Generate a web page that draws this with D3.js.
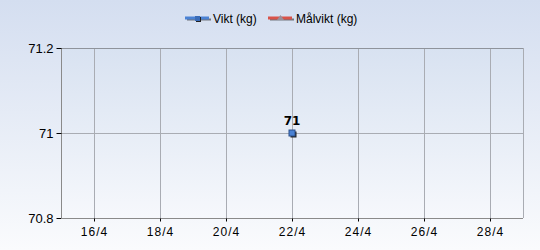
<!DOCTYPE html>
<html>
<head>
<meta charset="utf-8">
<script src="https://cdn.jsdelivr.net/npm/d3@7"></script>
<style>
  body { margin: 0; }
  svg { display: block; font-family: "DejaVu Sans", sans-serif; }
</style>
</head>
<body>
<svg id="chart" width="540" height="250"></svg>
<script>
// data
var viktDates = ["2012-04-22"];
var viktValues = [71];
var malviktDates = [];
var malviktValues = [];
var yTicks = [70.8, 71, 71.2];
var xDomain = ["2012-04-15", "2012-04-29"];
var seriesNames = ["Vikt (kg)", "Målvikt (kg)"];

var parse = d3.timeParse("%Y-%m-%d");
var margin = {top: 48, right: 17, bottom: 32, left: 61},
    width = 540 - margin.left - margin.right,
    height = 250 - margin.top - margin.bottom;

var svg = d3.select("#chart");

// background gradient
var defs = svg.append("defs");
var grad = defs.append("linearGradient").attr("id", "bg")
  .attr("x1", 0).attr("y1", 0).attr("x2", 0).attr("y2", 1);
grad.append("stop").attr("offset", "0%").attr("stop-color", "#d4def0");
grad.append("stop").attr("offset", "100%").attr("stop-color", "#fafbfd");
var grad2 = defs.append("linearGradient").attr("id", "plotbg")
  .attr("x1", 0).attr("y1", 0).attr("x2", 0).attr("y2", 1);
grad2.append("stop").attr("offset", "0%").attr("stop-color", "#d8e2f1");
grad2.append("stop").attr("offset", "100%").attr("stop-color", "#f6f8fc");

svg.append("rect").attr("width", 540).attr("height", 250).attr("fill", "url(#bg)");

var g = svg.append("g")
  .attr("transform", "translate(" + margin.left + "," + margin.top + ")");

var x = d3.scaleTime()
  .domain(xDomain.map(parse))
  .range([0, width]);

var y = d3.scaleLinear()
  .domain([70.8, 71.2])
  .range([height, 0]);

g.append("rect").attr("width", width).attr("height", height).attr("fill", "url(#plotbg)");

var xTickDates = d3.timeDay.range(parse("2012-04-16"), parse("2012-04-29"), 2);

// grid
g.selectAll(".vgrid").data(xTickDates).enter().append("line")
  .attr("x1", function(d) { return Math.round(x(d)) + 0.5; })
  .attr("x2", function(d) { return Math.round(x(d)) + 0.5; })
  .attr("y1", 0).attr("y2", height)
  .attr("stroke", "#a9acb3");
g.selectAll(".hgrid").data(yTicks).enter().append("line")
  .attr("x1", 0).attr("x2", width)
  .attr("y1", function(d) { return Math.round(y(d)) + 0.5; })
  .attr("y2", function(d) { return Math.round(y(d)) + 0.5; })
  .attr("stroke", "#a9acb3");
// right border
g.append("line").attr("x1", width + 0.5).attr("x2", width + 0.5)
  .attr("y1", 0).attr("y2", height).attr("stroke", "#a9acb3");
g.append("line").attr("x1", 0).attr("x2", width)
  .attr("y1", 0.5).attr("y2", 0.5).attr("stroke", "#8f939b");

// axes
var yAxis = g.append("g").attr("transform", "translate(0.5,0)")
  .call(d3.axisLeft(y).tickValues(yTicks).tickSize(5).tickPadding(3)
    .tickFormat(function(d) { return d3.format("")(+d.toFixed(1)); }));
var xAxis = g.append("g").attr("transform", "translate(0," + (height + 0.5) + ")")
  .call(d3.axisBottom(x).tickValues(xTickDates).tickSize(3).tickPadding(6)
    .tickFormat(function(d) { return d.getDate() + "/" + (d.getMonth() + 1); }));

yAxis.select(".domain").attr("stroke", "#8a8a8a").attr("d", "M0,0V" + height);
xAxis.select(".domain").attr("stroke", "#8a8a8a").attr("d", "M0,0H" + width);
svg.selectAll(".tick line").attr("stroke", "#000");
yAxis.selectAll("text").attr("font-size", 13).attr("fill", "#000");
xAxis.selectAll("text").attr("font-size", 12).attr("fill", "#000").attr("letter-spacing", "1px");

// Vikt series
var vikt = viktDates.map(function(d, i) { return {date: parse(d), value: viktValues[i]}; });
var malvikt = malviktDates.map(function(d, i) { return {date: parse(d), value: malviktValues[i]}; });

var line = d3.line().x(function(d) { return x(d.date); }).y(function(d) { return y(d.value); });
g.append("path").datum(vikt).attr("d", line).attr("fill", "none").attr("stroke", "#4a7fd0").attr("stroke-width", 3);
g.append("path").datum(malvikt).attr("d", line).attr("fill", "none").attr("stroke", "#d9534a").attr("stroke-width", 3);

var pts = g.selectAll(".pt").data(vikt).enter().append("g")
  .attr("transform", function(d) { return "translate(" + Math.round(x(d.date)) + "," + Math.round(y(d.value)) + ")"; });
pts.append("rect").attr("x", -1.5).attr("y", -1.5).attr("width", 6).attr("height", 6).attr("fill", "#222");
pts.append("rect").attr("x", -3).attr("y", -3).attr("width", 6).attr("height", 6)
  .attr("fill", "#4a82d4").attr("stroke", "#2a4f8a").attr("stroke-width", 1);
pts.append("text").attr("x", 0).attr("y", -8).attr("text-anchor", "middle")
  .attr("font-size", 12).attr("font-weight", "bold").attr("fill", "#000").text(function(d) { return d.value; });

// legend
var leg = svg.append("g").attr("transform", "translate(185,18)");
var l1 = leg.append("g");
l1.append("line").attr("x1", 2).attr("x2", 26).attr("y1", 1.5).attr("y2", 1.5).attr("stroke", "#70757d").attr("stroke-width", 2);
l1.append("line").attr("x1", 0).attr("x2", 24).attr("y1", 0).attr("y2", 0).attr("stroke", "#4a82d4").attr("stroke-width", 3);
l1.append("rect").attr("x", 11).attr("y", -1).attr("width", 5).attr("height", 5).attr("fill", "#222");
l1.append("rect").attr("x", 10).attr("y", -2).attr("width", 5).attr("height", 5).attr("fill", "#3a6cb8");
l1.append("text").attr("x", 28).attr("y", 4.5).attr("font-size", 12).attr("fill", "#000")
  .attr("font-family", "Liberation Sans, Arial, sans-serif").text(seriesNames[0]);

var l2 = leg.append("g").attr("transform", "translate(83,0)");
l2.append("line").attr("x1", 2).attr("x2", 26).attr("y1", 1.5).attr("y2", 1.5).attr("stroke", "#70757d").attr("stroke-width", 2);
l2.append("line").attr("x1", 0).attr("x2", 24).attr("y1", 0).attr("y2", 0).attr("stroke", "#d9534a").attr("stroke-width", 3);
l2.append("path").attr("d", "M9,2L12.5,-3L16,2Z").attr("fill", "#9a8f9a");
l2.append("text").attr("x", 28).attr("y", 4.5).attr("font-size", 12).attr("fill", "#000")
  .attr("font-family", "Liberation Sans, Arial, sans-serif").text(seriesNames[1]);
</script>
</body>
</html>
